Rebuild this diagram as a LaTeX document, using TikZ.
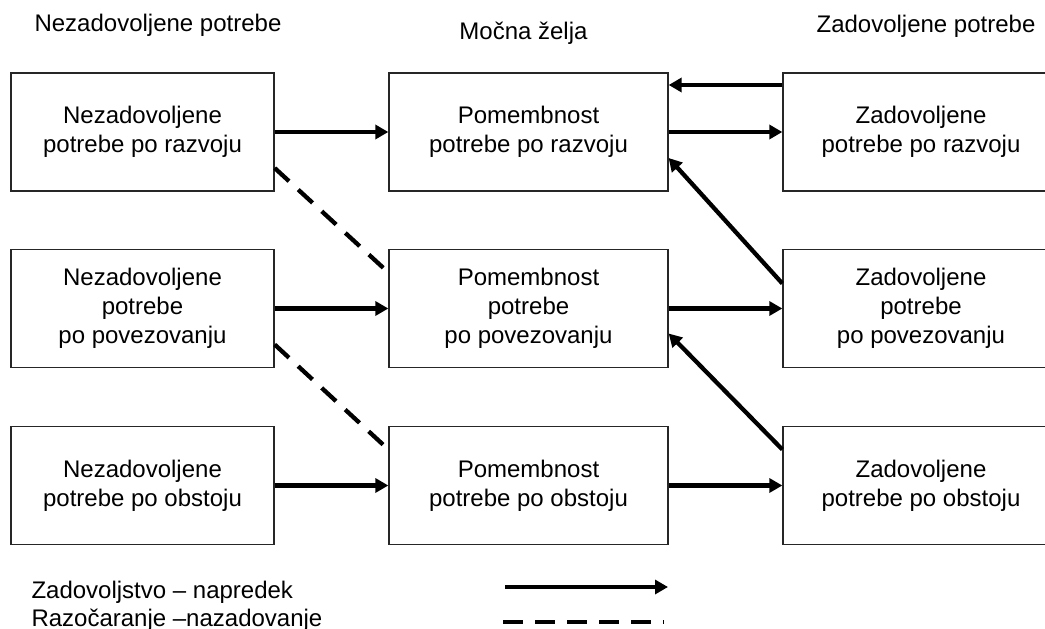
\documentclass[tikz,border=0pt]{standalone}
\usepackage{fontspec}
\setmainfont{Liberation Sans}
\usetikzlibrary{arrows.meta}
\begin{document}
\begin{tikzpicture}[x=1pt,y=-1pt,
  txt/.style={font=\fontsize{24}{29}\selectfont},
  box/.style={txt, draw=black!85, line width=1.3pt, align=center,
    minimum height=118pt, inner sep=0pt},
  lbox/.style={box, minimum width=263pt},
  mbox/.style={box, minimum width=279pt},
  rbox/.style={box, minimum width=276pt},
  flow/.style={line width=4.3pt, -{Triangle[length=13pt,width=14pt]}},
  back/.style={line width=4.3pt, dash pattern=on 19.5pt off 12.5pt}]
\clip (0,0) rectangle (1045,629);

% column headings
\node[txt, anchor=base] (hL) at (158,31) {Nezadovoljene potrebe};
\node[txt, anchor=base] (hM) at (523.5,39) {Močna želja};
\node[txt, anchor=base] (hR) at (926,32) {Zadovoljene potrebe};

% unmet needs
\node[lbox] (L1) at (142.5,132) {Nezadovoljene\\potrebe po razvoju};
\node[lbox] (L2) at (142.5,308.5) {Nezadovoljene\\potrebe\\po povezovanju};
\node[lbox] (L3) at (142.5,485.5) {Nezadovoljene\\potrebe po obstoju};

% importance of needs
\node[mbox] (M1) at (528.5,132) {Pomembnost\\potrebe po razvoju};
\node[mbox] (M2) at (528.5,308.5) {Pomembnost\\potrebe\\po povezovanju};
\node[mbox] (M3) at (528.5,485.5) {Pomembnost\\potrebe po obstoju};

% met needs
\node[rbox] (R1) at (921,132) {Zadovoljene\\potrebe po razvoju};
\node[rbox] (R2) at (921,308.5) {Zadovoljene\\potrebe\\po povezovanju};
\node[rbox] (R3) at (921,485.5) {Zadovoljene\\potrebe po obstoju};

% forward flows
\draw[flow] (L1.east) -- (M1.west);
\draw[flow] (L2.east) -- (M2.west);
\draw[flow] (L3.east) -- (M3.west);
\draw[flow] (M1.east) -- (R1.west);
\draw[flow] (M2.east) -- (R2.west);
\draw[flow] (M3.east) -- (R3.west);
\draw[flow] ([yshift=47pt]R1.west) -- ([yshift=47pt]M1.east);
\draw[flow] ([yshift=25pt]R2.west) -- ([yshift=-26pt]M1.east);
\draw[flow] ([yshift=36pt]R3.west) -- ([yshift=-25pt]M2.east);

% regression
\draw[back] ([yshift=-36pt]L1.east) -- ([yshift=36pt]M2.west);
\draw[back] ([yshift=-36pt]L2.east) -- ([yshift=36pt]M3.west);

% legend
\node[txt, anchor=base west] (k1) at (28,598) {Zadovoljstvo – napredek};
\node[txt, anchor=base west] (k2) at (28,626) {Razočaranje –nazadovanje};
\coordinate (a1) at (505,587);
\coordinate (a2) at (668,587);
\coordinate (d1) at (503,622);
\coordinate (d2) at (664,622);
\draw[flow] (a1) -- (a2);
\draw[back] (d1) -- (d2);
\end{tikzpicture}
\end{document}
